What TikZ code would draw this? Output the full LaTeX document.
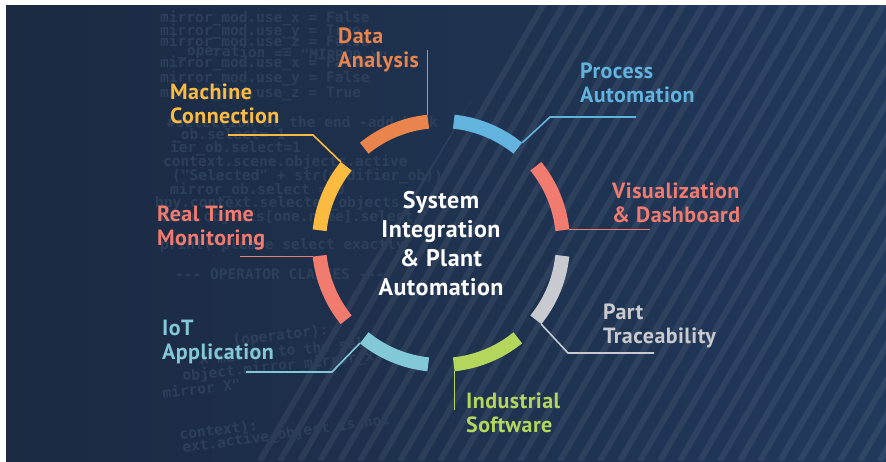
\documentclass[tikz,border=0pt]{standalone}
\usepackage{fontspec}
\setmainfont{PT Sans}[LetterSpace=2]
\setmonofont{DejaVu Sans Mono}
\usetikzlibrary{positioning}
\definecolor{bgleft}{HTML}{1C2A42}
\definecolor{bgright}{HTML}{21395B}
\definecolor{codeclr}{HTML}{2C3F5B}
\definecolor{orangeseg}{HTML}{E8844C}
\definecolor{blueseg}{HTML}{62B4DE}
\definecolor{redseg}{HTML}{F27B70}
\definecolor{grayseg}{HTML}{C9CACF}
\definecolor{greenseg}{HTML}{B4D65C}
\definecolor{cyanseg}{HTML}{82C8D6}
\definecolor{yellowseg}{HTML}{FBBB41}

\begin{document}
\begin{tikzpicture}[x=1pt,y=-1pt,% pixel units, y downwards
      seg/.style={line width=14pt},
      lead/.style={line width=1.6pt},
      lbl/.style={anchor=base west, align=left, inner sep=0pt,
        font=\bfseries\fontsize{22}{24}\selectfont},
      code/.style={anchor=base west, inner sep=0pt, text=codeclr,
        font=\ttfamily\bfseries\fontsize{14.5}{14.5}\selectfont},
      stripe/.style={line width=6pt, white, opacity=0.065}
    ]
    \useasboundingbox (0,0) rectangle (886,461);
    \fill[white] (0,0) rectangle (886,461);
    \shade[left color=bgleft, right color=bgright] (6,5) rectangle (886,461);

    % diagonal stripes on the right
    \begin{scope}
      \clip (250,461) -- (530,5) -- (886,5) -- (886,461) -- cycle;
      \foreach \i in {0,...,45}
        \draw[stripe] ({240+20*\i},461) -- ++(266,-461);
    \end{scope}

    % code in the background
    \foreach \x/\y/\r/\txt [count=\i] in {
        160/22/0/{mirror\_mod.use\_x = False},
        160/35/0/{mirror\_mod.use\_y = True},
        160/46/0/{mirror\_mod.use\_z = False},
        178/55/-2/{\_operation == "MIRROR\_Y"},
        160/67/0/{mirror\_mod.use\_x = False},
        160/82/0/{mirror\_mod.use\_y = False},
        160/97/0/{mirror\_mod.use\_z = True},
        167/127/0/{\#selection at the end -add back},
        172/139/0/{\_ob.select= 1},
        170/152/0/{ier\_ob.select=1},
        163/166/0/{context.scene.objects.active},
        172/180/0/{("Selected" + str(modifier\_ob))},
        170/194/0/{mirror\_ob.select = 0},
        155/207/0/{bpy.context.selected\_objects},
        160/221/0/{data.objects[one.name].select},
        160/249/0/{print("please select exactly},
        175/279/0/{--- OPERATOR CLASSES ---},
        233/345/6/{(operator):},
        200/365/6/{X mirror to the sel},
        183/381/6/{object.mirror\_mirror\_x"},
        163/399/7/{mirror X"},
        180/440/7/{context):},
        183/453/8/{ext.active\_object is not}}
      \node[code, rotate=\r] (code\i) at (\x,\y) {\txt};

    % ring of eight segments, leader point at the clockwise end
    \begin{scope}[shift={(441,243)}, yscale=-1]
      \foreach \a/\c/\n in {112.5/orangeseg/da, 67.5/blueseg/pa,
          22.5/redseg/vd, -22.5/grayseg/pt, -67.5/greenseg/is,
          -112.5/cyanseg/io, 202.5/redseg/rt, 157.5/yellowseg/mc}{
        \draw[seg, draw=\c] (\a-16.5:122) arc[start angle=\a-16.5, end angle=\a+16.5, radius=122];
        \coordinate (\n-end) at (\a-16.5:129);
      }
    \end{scope}

    \coordinate (da-tip) at (428,50);
    \coordinate (pa-knee) at (550,117);
    \coordinate (pa-tip) at (636,117);
    \coordinate (vd-tip) at (650,231);
    \coordinate (pt-knee) at (568,353);
    \coordinate (pt-tip) at (654,353);
    \coordinate (is-tip) at (452,410);
    \coordinate (io-knee) at (332,372);
    \coordinate (io-tip) at (246,372);
    \coordinate (rt-tip) at (240,257);
    \coordinate (mc-knee) at (313,135);
    \coordinate (mc-tip) at (228,135);

    \draw[lead, orangeseg] (da-end) -- (da-end |- da-tip);
    \draw[lead, blueseg] (pa-end) -- (pa-knee) -- (pa-tip);
    \draw[lead, redseg] (vd-end) -- (vd-end -| vd-tip);
    \draw[lead, grayseg] (pt-end) -- (pt-knee) -- (pt-tip);
    \draw[lead, greenseg] (is-end) -- (is-end |- is-tip);
    \draw[lead, cyanseg] (io-end) -- (io-knee) -- (io-tip);
    \draw[lead, redseg] (rt-end) -- (rt-end -| rt-tip);
    \draw[lead, yellowseg] (mc-end) -- (mc-knee) -- (mc-tip);

    % base anchor sits on the last line
    \node[lbl, text=orangeseg] (da) at (338,67) {Data\\Analysis};
    \node[lbl, text=blueseg] (pa) at (580,102) {Process\\Automation};
    \node[lbl, text=redseg] (vd) at (612,222) {Visualization\\\& Dashboard};
    \node[lbl, text=grayseg] (pt) at (603,343) {Part\\Traceability};
    \node[lbl, text=greenseg] (is) at (466,432) {Industrial\\Software};
    \node[lbl, text=cyanseg] (io) at (162,359) {IoT\\Application};
    \node[lbl, text=redseg] (rt) at (157,245) {Real Time\\Monitoring};
    \node[lbl, text=yellowseg] (mc) at (170,123) {Machine\\Connection};

    \node[anchor=base, align=center, inner sep=0pt, text=white,
      font=\bfseries\fontsize{24}{29}\selectfont] (hub) at (441,295)
      {System\\Integration\\\& Plant\\Automation};
  \end{tikzpicture}
\end{document}
